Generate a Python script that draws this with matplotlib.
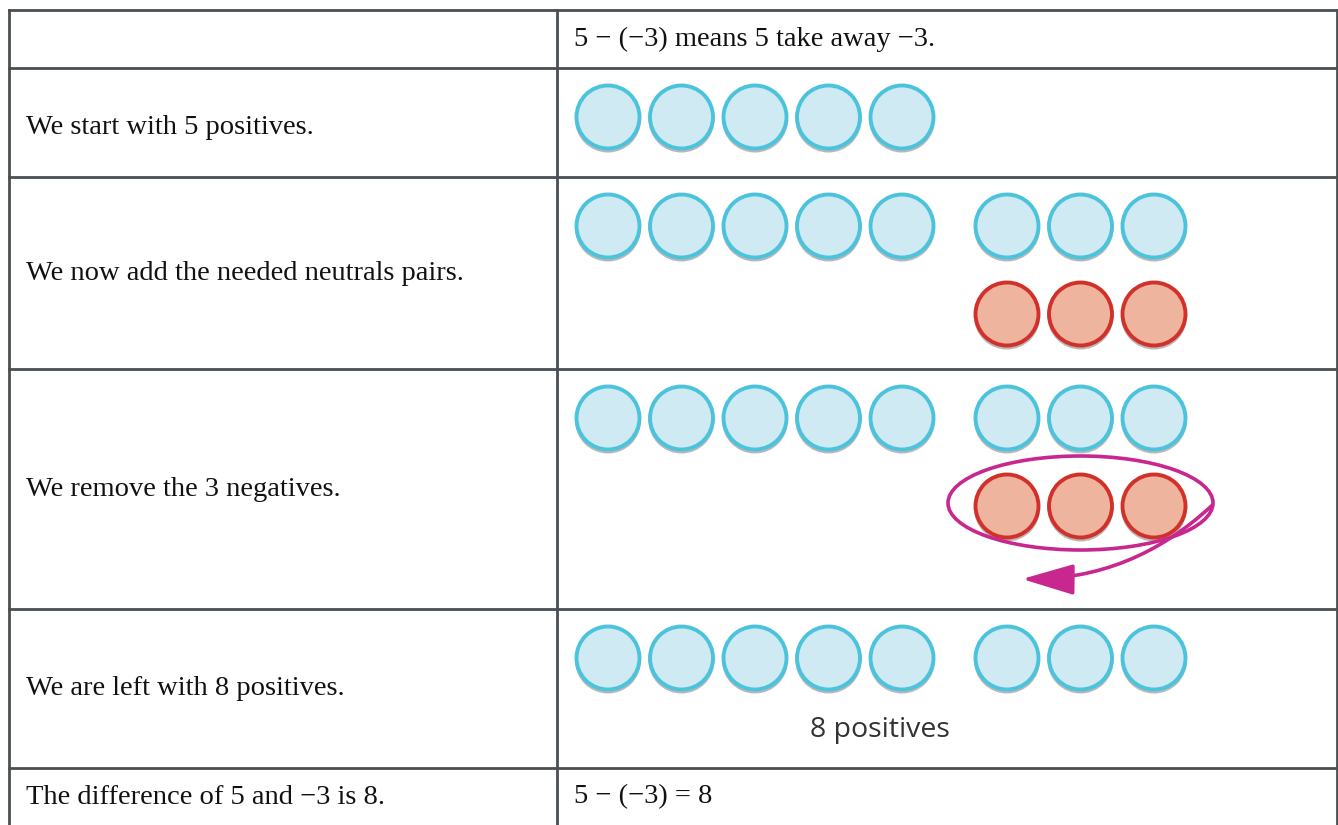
import matplotlib.pyplot as plt
from matplotlib.patches import Circle, Ellipse, FancyArrowPatch

# Data
left_text = ["",
             "We start with 5 positives.",
             "We now add the needed neutrals pairs.",
             "We remove the 3 negatives.",
             "We are left with 8 positives.",
             "The difference of 5 and \u22123 is 8."]
right_text = ["5 \u2212 (\u22123) means 5 take away \u22123.", "", "", "", "", "5 \u2212 (\u22123) = 8"]
row_edges = [10, 68, 177, 369, 609, 768, 830]
start_pos = [0, 5, 5, 5, 5, 0]     # positives in first group
pair_pos = [0, 0, 3, 3, 3, 0]      # positives added as neutral pairs
pair_neg = [0, 0, 3, 3, 0, 0]      # negatives added as neutral pairs
removed_row = 3
result_label = "8 positives"

# colours
line_col = "#4a4f54"
pos_face, pos_edge = "#cfeaf3", "#4cc3dd"
neg_face, neg_edge = "#eeb49d", "#d2302a"
mag = "#c8278f"

fig = plt.figure(figsize=(13.38, 8.25), dpi=100)
ax = fig.add_axes([0, 0, 1, 1])
ax.set_xlim(0, 1338)
ax.set_ylim(825, 0)
ax.axis("off")

x_left, x_mid, x_right = 9, 557, 1337
r = 32.5
step = 73.5
x0 = 608
x_pair = 1007


def counter(x, y, face, edge):
    ax.add_patch(Circle((x, y + 2.5), r + 0.5, facecolor="#8a8a8a", edgecolor="none", alpha=0.6))
    ax.add_patch(Circle((x, y), r - 1, facecolor=face, edgecolor=edge, lw=2.8))


# table lines
for y in row_edges[:-1]:
    ax.plot([x_left, x_right], [y, y], color=line_col, lw=2)
for x in (x_left, x_mid, x_right):
    ax.plot([x, x], [row_edges[0], 825], color=line_col, lw=2)

for i in range(len(left_text)):
    top, bot = row_edges[i], row_edges[i + 1]
    if i == len(left_text) - 1:
        bot = 826
    yc = (top + bot) / 2
    if i == 1:
        yc += 5
    ax.text(26, yc, left_text[i], ha="left", va="center", fontsize=20.5,
            family="Liberation Serif", color="#111111")
    ax.text(574, yc, right_text[i], ha="left", va="center", fontsize=20.5,
            family="Liberation Serif", color="#111111")

    y1 = top + 49
    for k in range(start_pos[i]):
        counter(x0 + k * step, y1, pos_face, pos_edge)
    for k in range(pair_pos[i]):
        counter(x_pair + k * step, y1, pos_face, pos_edge)
    for k in range(pair_neg[i]):
        counter(x_pair + k * step, y1 + 88, neg_face, neg_edge)

    if i == removed_row:
        yn = y1 + 88
        xc = x_pair + step * (pair_neg[i] - 1) / 2
        ax.add_patch(Ellipse((xc, yn - 3), 265, 94, facecolor="none", edgecolor=mag, lw=2.6))
        ax.add_patch(FancyArrowPatch((xc + 132, yn - 1), (1022, yn + 73),
                                     connectionstyle="arc3,rad=-0.2",
                                     arrowstyle="-|>,head_length=32,head_width=9.5",
                                     color=mag, lw=2.6, shrinkA=0, shrinkB=0))

    if result_label and i == 4:
        ax.text(880, top + 121, result_label, ha="center", va="center", fontsize=20.5,
                family="Open Sans", color="#333333")

fig.savefig("out.png", dpi=100)
